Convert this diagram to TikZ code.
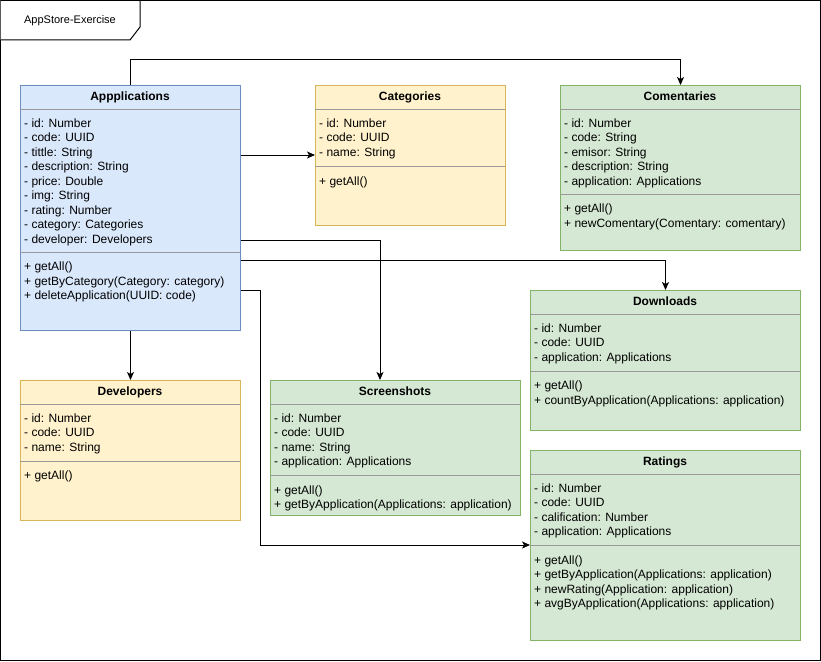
\documentclass[tikz,border=0pt]{standalone}
\usepackage{fontspec}
\setmainfont{Liberation Sans}
\usetikzlibrary{arrows.meta}

\definecolor{blueFill}{HTML}{DAE8FC}
\definecolor{blueLine}{HTML}{6C8EBF}
\definecolor{yellowFill}{HTML}{FFF2CC}
\definecolor{yellowLine}{HTML}{D6B656}
\definecolor{greenFill}{HTML}{D5E8D4}
\definecolor{greenLine}{HTML}{82B366}
\definecolor{sepGray}{HTML}{999999}

\tikzset{
  classbox/.style={draw, line width=1pt, anchor=north west, inner sep=0pt},
  bluebox/.style={classbox, fill=blueFill, draw=blueLine},
  yellowbox/.style={classbox, fill=yellowFill, draw=yellowLine},
  greenbox/.style={classbox, fill=greenFill, draw=greenLine},
  title/.style={font=\fontsize{12}{14.5}\selectfont\bfseries, anchor=base, inner sep=0pt},
  members/.style={font=\fontsize{12}{14.5}\selectfont, align=left, anchor=north west, inner sep=0pt},
  divider/.style={draw=sepGray, line width=1pt},
  link/.style={draw=black, line width=1pt, -{Stealth[length=8pt,width=7pt,inset=2pt]}},
  plainlink/.style={draw=black, line width=1pt},
}
\newcommand{\fl}{\rule{0pt}{9pt}}

\begin{document}
\begin{tikzpicture}[x=1pt, y=-1pt]
  \useasboundingbox (0,0) rectangle (821,661);
  \fill[white] (0,0) rectangle (821,661);

  % outer frame and its name tab
  \draw[line width=1pt] (0.5,0.5) rectangle (820.5,660.5);
  \draw[line width=1pt, fill=white] (0.5,0.5) -- (140,0.5) -- (140,27) -- (130,40) -- (0.5,40);
  \node[font=\fontsize{11}{13}\selectfont, inner sep=0pt] (frameName) at (70,21) {AppStore-Exercise};

  % ---------- Appplications ----------
  \node[bluebox, minimum width=220, minimum height=245] (app) at (20,85) {};
  \node[title] (appT) at (130,100.5) {Appplications};
  \draw[divider] (20,109) -- (240,109);
  \node[members] (appA) at (24,118) {\fl- id: Number\\- code: UUID\\- tittle: String\\- description: String\\- price: Double\\- img: String\\- rating: Number\\- category: Categories\\- developer: Developers};
  \draw[divider] (20,252) -- (240,252);
  \node[members] (appM) at (24,261.5) {\fl+ getAll()\\+ getByCategory(Category: category)\\+ deleteApplication(UUID: code)};

  % ---------- Categories ----------
  \node[yellowbox, minimum width=190, minimum height=140] (cat) at (315,85) {};
  \node[title] (catT) at (410,100.5) {Categories};
  \draw[divider] (315,109) -- (505,109);
  \node[members] (catA) at (319,118) {\fl- id: Number\\- code: UUID\\- name: String};
  \draw[divider] (315,166.5) -- (505,166.5);
  \node[members] (catM) at (319,176) {\fl+ getAll()};

  % ---------- Comentaries ----------
  \node[greenbox, minimum width=240, minimum height=165] (com) at (560,85) {};
  \node[title] (comT) at (680,100.5) {Comentaries};
  \draw[divider] (560,109) -- (800,109);
  \node[members] (comA) at (564,118) {\fl- id: Number\\- code: String\\- emisor: String\\- description: String\\- application: Applications};
  \draw[divider] (560,194) -- (800,194);
  \node[members] (comM) at (564,203.5) {\fl+ getAll()\\+ newComentary(Comentary: comentary)};

  % ---------- Downloads ----------
  \node[greenbox, minimum width=270, minimum height=140] (dl) at (530,290) {};
  \node[title] (dlT) at (665,305.5) {Downloads};
  \draw[divider] (530,314) -- (800,314);
  \node[members] (dlA) at (534,323) {\fl- id: Number\\- code: UUID\\- application: Applications};
  \draw[divider] (530,371) -- (800,371);
  \node[members] (dlM) at (534,380.5) {\fl+ getAll()\\+ countByApplication(Applications: application)};

  % ---------- Ratings ----------
  \node[greenbox, minimum width=270, minimum height=190] (rat) at (530,450) {};
  \node[title] (ratT) at (665,465.5) {Ratings};
  \draw[divider] (530,474) -- (800,474);
  \node[members] (ratA) at (534,483) {\fl- id: Number\\- code: UUID\\- calification: Number\\- application: Applications};
  \draw[divider] (530,545.5) -- (800,545.5);
  \node[members] (ratM) at (534,555) {\fl+ getAll()\\+ getByApplication(Applications: application)\\+ newRating(Application: application)\\+ avgByApplication(Applications: application)};

  % ---------- Screenshots ----------
  \node[greenbox, minimum width=250, minimum height=135] (scr) at (270,380) {};
  \node[title] (scrT) at (395,395.5) {Screenshots};
  \draw[divider] (270,404) -- (520,404);
  \node[members] (scrA) at (274,413) {\fl- id: Number\\- code: UUID\\- name: String\\- application: Applications};
  \draw[divider] (270,475.5) -- (520,475.5);
  \node[members] (scrM) at (274,485) {\fl+ getAll()\\+ getByApplication(Applications: application)};

  % ---------- Developers ----------
  \node[yellowbox, minimum width=220, minimum height=140] (dev) at (20,380) {};
  \node[title] (devT) at (130,395.5) {Developers};
  \draw[divider] (20,404) -- (240,404);
  \node[members] (devA) at (24,413) {\fl- id: Number\\- code: UUID\\- name: String};
  \draw[divider] (20,461) -- (240,461);
  \node[members] (devM) at (24,470.5) {\fl+ getAll()};

  % ---------- associations ----------
  \coordinate (appTop) at (app.north);
  \draw[link] (appTop) -- ++(0,-25) -| (com.north);
  \draw[link] (app.east |- 0,155) -- (cat.west |- 0,155);
  \draw[link] (app.east |- 0,240) -| (scr.north -| 380,0);
  \draw[link] (app.east |- 0,260) -| (dl.north);
  \draw[link] (app.east |- 0,290.5) -| (260,545) -- (rat.west |- 0,545);
  \draw[link] (app.south) -- (dev.north);
\end{tikzpicture}
\end{document}
